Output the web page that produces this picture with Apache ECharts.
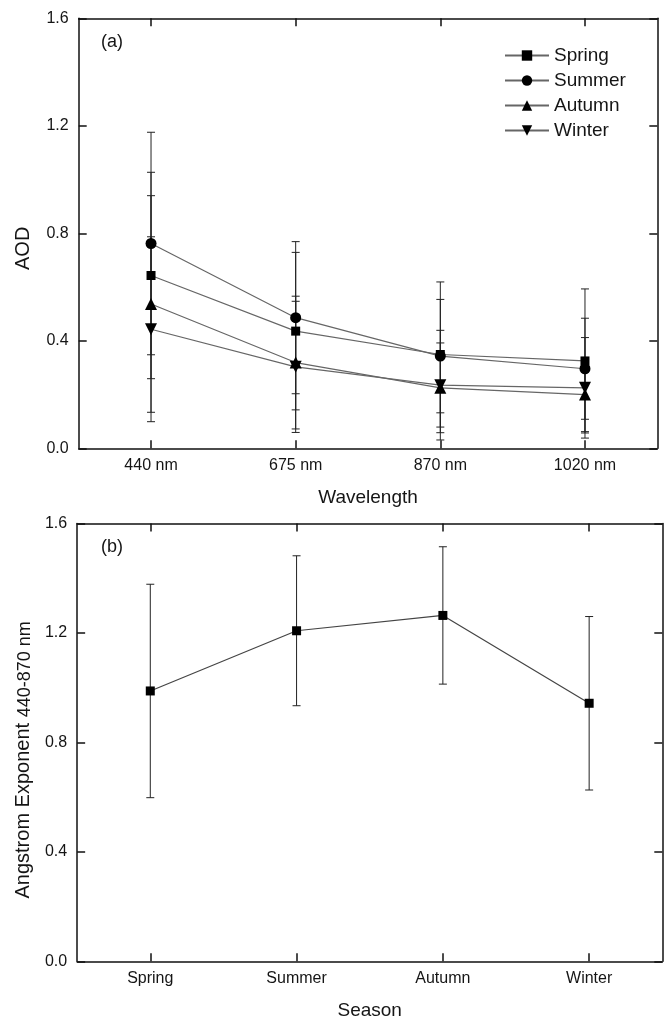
<!DOCTYPE html>
<html>
<head>
<meta charset="utf-8">
<script src="https://cdn.jsdelivr.net/npm/echarts@6/dist/echarts.min.js"></script>
<style>
html,body{margin:0;padding:0;background:#fff;}
#chart{width:670px;height:1024px;}
</style>
</head>
<body>
<div id="chart"></div>
<script>
// ---- data ----
const wavelengths = ['440 nm', '675 nm', '870 nm', '1020 nm'];
const springAOD = [0.643, 0.436, 0.349, 0.325];
const springErr = [0.384, 0.293, 0.270, 0.268];
const summerAOD = [0.762, 0.486, 0.343, 0.296];
const summerErr = [0.414, 0.283, 0.211, 0.188];
const autumnAOD = [0.537, 0.319, 0.225, 0.200];
const autumnErr = [0.403, 0.247, 0.167, 0.138];
const winterAOD = [0.443, 0.303, 0.235, 0.225];
const winterErr = [0.344, 0.244, 0.204, 0.187];

const seasons = ['Spring', 'Summer', 'Autumn', 'Winter'];
const angstrom = [0.988, 1.208, 1.264, 0.943];
const angstromErr = [0.390, 0.274, 0.251, 0.317];

const yTicks = [0.0, 0.4, 0.8, 1.2, 1.6];

// ---- helpers ----
const FONT = 'Liberation Sans, Arial, Helvetica, sans-serif';
const TXT = '#151515';

function errData(vals, errs) {
  return vals.map((v, i) => [i, v - errs[i], v + errs[i]]);
}

function errorBarSeries(name, xIdx, yIdx, vals, errs) {
  return {
    name: name,
    type: 'custom',
    xAxisIndex: xIdx,
    yAxisIndex: yIdx,
    z: 1,
    silent: true,
    data: errData(vals, errs),
    renderItem: function (params, api) {
      const i = api.value(0);
      const lo = api.coord([i, api.value(1)]);
      const hi = api.coord([i, api.value(2)]);
      const w = 4;
      const style = { stroke: '#222', lineWidth: 1 };
      return {
        type: 'group',
        children: [
          { type: 'line', shape: { x1: lo[0], y1: lo[1], x2: hi[0], y2: hi[1] }, style: style },
          { type: 'line', shape: { x1: hi[0] - w, y1: hi[1], x2: hi[0] + w, y2: hi[1] }, style: style },
          { type: 'line', shape: { x1: lo[0] - w, y1: lo[1], x2: lo[0] + w, y2: lo[1] }, style: style }
        ]
      };
    }
  };
}

function lineSeries(name, vals, symbol, size, rotate, xIdx, yIdx, lineColor) {
  return {
    name: name,
    type: 'line',
    xAxisIndex: xIdx,
    yAxisIndex: yIdx,
    data: vals,
    symbol: symbol,
    symbolSize: size,
    symbolRotate: rotate,
    showAllSymbol: true,
    z: 3,
    lineStyle: { color: lineColor, width: 1.2 },
    itemStyle: { color: '#000', borderWidth: 0 },
    emphasis: { disabled: true }
  };
}

const axisLine = { show: true, onZero: false, lineStyle: { color: '#111', width: 1.5 } };
const inTick = { show: true, inside: true, length: 8, lineStyle: { color: '#111', width: 1.5 } };

function catAxis(grid, cats, name, position, showLabels) {
  return {
    type: 'category',
    gridIndex: grid,
    data: cats,
    position: position,
    boundaryGap: true,
    axisLine: axisLine,
    axisTick: Object.assign({ alignWithLabel: true }, inTick),
    axisLabel: { show: showLabels, margin: 9, color: TXT, fontSize: 16, fontFamily: FONT },
    splitLine: { show: false },
    name: name,
    nameLocation: 'middle',
    nameGap: 40,
    nameTextStyle: { color: TXT, fontSize: 19, fontFamily: FONT }
  };
}

function valAxis(grid, position, showLabels, extra) {
  return Object.assign({
    type: 'value',
    gridIndex: grid,
    position: position,
    min: yTicks[0],
    max: yTicks[yTicks.length - 1],
    interval: yTicks[1] - yTicks[0],
    axisLine: axisLine,
    axisTick: inTick,
    axisLabel: {
      show: showLabels, margin: 10, color: TXT, fontSize: 16, fontFamily: FONT,
      formatter: v => v.toFixed(1)
    },
    splitLine: { show: false }
  }, extra || {});
}

const chart = echarts.init(document.getElementById('chart'), null, { renderer: 'canvas' });

chart.setOption({
  backgroundColor: '#fff',
  animation: false,
  title: [
    { text: '(a)', left: 96, top: 28, textStyle: { fontSize: 18, fontWeight: 'normal', color: TXT, fontFamily: FONT } },
    { text: '(b)', left: 96, top: 533, textStyle: { fontSize: 18, fontWeight: 'normal', color: TXT, fontFamily: FONT } }
  ],
  legend: {
    data: ['Spring', 'Summer', 'Autumn', 'Winter'],
    orient: 'vertical',
    left: 499,
    top: 41,
    itemWidth: 44,
    itemHeight: 13,
    itemGap: 6,
    textStyle: { fontSize: 19, color: TXT, fontFamily: FONT },
    selectedMode: false
  },
  grid: [
    { left: 78.7, top: 18.3, width: 578.6, height: 430 },
    { left: 73.7, top: 523.5, width: 588.6, height: 437.8 }
  ],
  xAxis: [
    catAxis(0, wavelengths, 'Wavelength', 'bottom', true),
    catAxis(0, wavelengths, '', 'top', false),
    catAxis(1, seasons, 'Season', 'bottom', true),
    catAxis(1, seasons, '', 'top', false)
  ],
  yAxis: [
    valAxis(0, 'left', true, {
      name: 'AOD', nameLocation: 'middle', nameGap: 45,
      nameTextStyle: { color: TXT, fontSize: 20, fontFamily: FONT, padding: [0, 30, 0, 0] }
    }),
    valAxis(0, 'right', false),
    valAxis(1, 'left', true, {
      name: '{a|Angstrom Exponent }{b|440-870 nm}', nameLocation: 'middle', nameGap: 40,
      nameTextStyle: {
        color: TXT, fontFamily: FONT, padding: [0, 35, 0, 0],
        rich: {
          a: { fontSize: 20, lineHeight: 21, verticalAlign: 'top', color: TXT, fontFamily: FONT },
          b: { fontSize: 18, lineHeight: 19, verticalAlign: 'bottom', padding: [8, 0, 0, 0], color: TXT, fontFamily: FONT }
        }
      }
    }),
    valAxis(1, 'right', false)
  ],
  series: [
    errorBarSeries('Spring err', 0, 0, springAOD, springErr),
    errorBarSeries('Summer err', 0, 0, summerAOD, summerErr),
    errorBarSeries('Autumn err', 0, 0, autumnAOD, autumnErr),
    errorBarSeries('Winter err', 0, 0, winterAOD, winterErr),
    lineSeries('Spring', springAOD, 'rect', 9, 0, 0, 0, '#666'),
    lineSeries('Summer', summerAOD, 'circle', 11, 0, 0, 0, '#666'),
    lineSeries('Autumn', autumnAOD, 'triangle', 12, 0, 0, 0, '#666'),
    lineSeries('Winter', winterAOD, 'triangle', 12, 180, 0, 0, '#666'),
    errorBarSeries('Angstrom err', 2, 2, angstrom, angstromErr),
    lineSeries('Angstrom Exponent', angstrom, 'rect', 9, 0, 2, 2, '#444')
  ]
});
</script>
</body>
</html>
